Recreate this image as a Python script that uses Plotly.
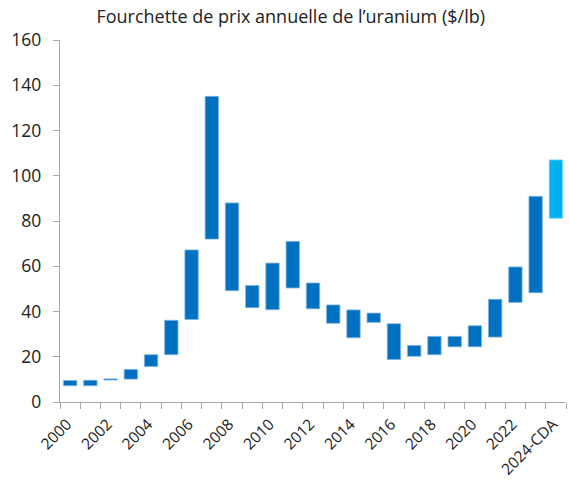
import plotly.graph_objects as go

categories = ["2000", "2001", "2002", "2003", "2004", "2005", "2006", "2007", "2008",
              "2009", "2010", "2011", "2012", "2013", "2014", "2015", "2016", "2017",
              "2018", "2019", "2020", "2021", "2022", "2023", "2024-CDA"]
price_low = [7.2, 7.2, 9.7, 10.1, 15.7, 20.9, 36.5, 72.0, 49.2, 41.7, 40.8, 50.4, 41.2,
             34.8, 28.4, 35.2, 18.8, 20.2, 20.9, 24.4, 24.4, 28.7, 44.0, 48.3, 81.2]
price_high = [9.5, 9.6, 10.2, 14.4, 20.9, 36.1, 67.2, 135.1, 88.0, 51.5, 61.4, 71.0, 52.6,
              42.9, 40.7, 39.3, 34.6, 25.0, 29.0, 29.0, 33.7, 45.4, 59.7, 90.9, 107.0]
shown_labels = ["2000", "2002", "2004", "2006", "2008", "2010", "2012", "2014", "2016",
                "2018", "2020", "2022", "2024-CDA"]

idx = list(range(len(categories)))
colors = ["#0070C0"] * (len(categories) - 1) + ["#00B0F0"]
line_colors = ["#7FB2E0"] * (len(categories) - 1) + ["#7FD7F7"]

fig = go.Figure(go.Bar(
    x=idx,
    y=[h - l for h, l in zip(price_high, price_low)],
    base=price_low,
    width=0.66,
    marker=dict(color=colors, line=dict(color=line_colors, width=0.8)),
    customdata=categories,
    hovertemplate="%{customdata}: %{base}–%{y}<extra></extra>",
))

font_family = "'Open Sans', Lato, sans-serif"
fig.update_layout(
    width=570, height=483,
    margin=dict(l=60, r=4, t=40, b=81),
    paper_bgcolor="white", plot_bgcolor="white",
    showlegend=False,
    title=dict(text="Fourchette de prix annuelle de l’uranium ($/lb)",
               x=0.51, xanchor="center", y=0.965, yanchor="middle",
               font=dict(family=font_family, size=18, color="#222222")),
    font=dict(family=font_family, size=17, color="#222222"),
)
fig.update_xaxes(
    range=[-0.5, len(categories) - 0.5],
    automargin=False,
    tickmode="array",
    tickvals=[i for i in idx if i % 2 == 0],
    ticktext=shown_labels,
    tickangle=-45,
    ticklabelstandoff=6,
    ticklabelshift=-3,
    ticks="", showgrid=False, zeroline=False,
    showline=True, linecolor="#A6A6A6", linewidth=1.3,
    minor=dict(tickmode="array", tickvals=[i - 0.5 for i in range(len(categories) + 1)],
               ticks="outside", ticklen=6, tickcolor="#A6A6A6", tickwidth=1.3, showgrid=False),
    tickfont=dict(size=15.5),
)
fig.update_yaxes(
    range=[0, 160], tickmode="linear", tick0=0, dtick=20,
    automargin=False,
    ticks="outside", ticklen=6, tickcolor="#A6A6A6", tickwidth=1.3,
    ticklabelstandoff=8,
    showline=True, linecolor="#A6A6A6", linewidth=1.3,
    showgrid=False, zeroline=False,
    tickfont=dict(size=17.5),
)

fig.write_html("out.html", config={"displayModeBar": False},
               post_script="document.body.style.margin='0';")
